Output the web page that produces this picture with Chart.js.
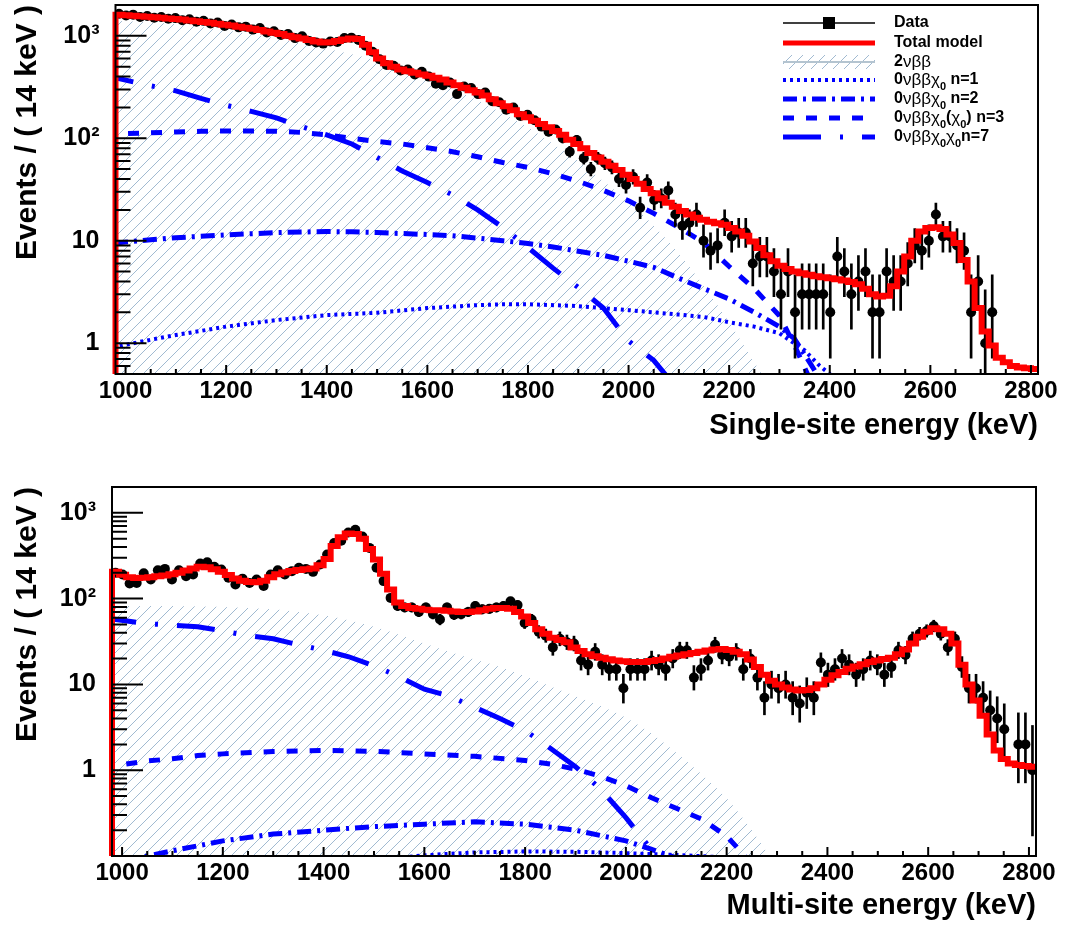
<!DOCTYPE html>
<html>
<head>
<meta charset="utf-8">
<script src="https://cdn.jsdelivr.net/npm/chart.js@4.4.1/dist/chart.umd.min.js"></script>
<style>
  html, body { margin: 0; padding: 0; background: #fff; }
  #wrap { position: relative; width: 1067px; height: 929px; }
  canvas { position: absolute; left: 0; }
  #c1 { top: 0; }
  #c2 { top: 460px; }
</style>
</head>
<body>
<div id="wrap">
  <canvas id="c1" width="1067" height="460"></canvas>
  <canvas id="c2" width="1067" height="469"></canvas>
</div>
<script>
// ----- settings
Chart.defaults.font.family = "'Liberation Sans', Arial, Helvetica, sans-serif";
Chart.defaults.color = '#000';

const BIN_LO = 980, BIN_W = 14, E_MAX = 2814;
const X_TICKS = [1000, 1200, 1400, 1600, 1800, 2000, 2200, 2400, 2600, 2800];
const Y_LABELS = {1: '1', 10: '10', 100: '10²', 1000: '10³'};
const RED = '#ff0000', BLUE = '#0000ff', HATCH = 'rgb(150,178,204)';

// ----- single-site spectrum (counts per 14 keV bin, 980..2814 keV)
const SS_DATA = [
  1640, 1580, 1610, 1530, 1560, 1500, 1530, 1470, 1490, 1420, 1450, 1370, 1400, 1320, 1350,
  1250, 1290, 1210, 1230, 1150, 1190, 1080, 1110, 1020, 1040, 950, 990, 890, 860, 840,
  880, 870, 950, 960, 910, 800, 700, 590, 520, 510, 460, 470, 420, 445, 400,
  340, 330, 350, 270, 320, 310, 270, 280, 230, 225, 190, 200, 165, 170, 150,
  130, 116, 122, 100, 74, 96, 64, 50, 64, 57, 52, 40, 35, 42, 21,
  37, 25, 26, 31, 18, 14, 15, 18,
  10, 8, 9, 15, 11, 12, 12, 6, 7, 7, 5, 3, 5, 2, 3, 3, 3, 3, 2, 7,
  5, 3, 4, 5, 2, 2, 5, 4, 4, 6, 9, 8, 10, 18, 11, 11, 9, 8, 2, 4, 1, 2,
  null, null, null, null, null, null
];
const SS_MODEL = [
  1610, 1590, 1570, 1555, 1540, 1520, 1500, 1480, 1460, 1440, 1415, 1390, 1365, 1340, 1310,
  1285, 1260, 1230, 1200, 1170, 1140, 1100, 1070, 1040, 1000, 970, 940, 910, 880, 860,
  865, 890, 920, 940, 930, 820, 690, 600, 540, 500, 470, 450, 435, 420, 408,
  390, 375, 350, 330, 312, 295, 280, 262, 240, 220, 205, 188, 172, 160, 148,
  138, 128, 118, 108, 97, 88, 80, 72, 65, 59, 54, 49, 44, 40, 36,
  32, 29, 26, 23.5, 21.5, 19.5, 18, 16.8, 16, 15.3, 14.8, 14.3, 13.3, 12.3, 11.2,
  9.8, 8.5, 7.2, 6.3, 5.7, 5.3, 5.0, 4.8, 4.65, 4.5, 4.4, 4.3, 4.2, 4.1, 3.95,
  3.75, 3.4, 3.0, 2.85, 2.9, 3.6, 5.0, 7.0, 10, 12.3, 13.3, 13.5, 13, 11.5, 9.5,
  6.5, 4.0, 2.2, 1.3, 0.95, 0.72, 0.65, 0.6, 0.58, 0.57, 0.56
];
const SS_2NU_E = [980, 1050, 1100, 1150, 1200, 1250, 1300, 1350, 1400, 1450, 1500, 1550, 1600, 1650,
  1700, 1750, 1800, 1850, 1900, 1950, 2000, 2050, 2100, 2150, 2200, 2250, 2280];
const SS_2NU = [1400, 1350, 1300, 1220, 1130, 1040, 940, 840, 750, 660, 570, 470, 385, 305,
  235, 175, 128, 88, 60, 38, 24, 14, 7.5, 3.6, 1.6, 0.65, 0.38];
const SS_N1_E = [980, 1050, 1100, 1200, 1300, 1400, 1500, 1600, 1700, 1750, 1800, 1900, 2000, 2100,
  2150, 2200, 2250, 2300, 2350, 2380, 2400, 2420];
const SS_N1 = [0.92, 1.08, 1.2, 1.45, 1.68, 1.88, 1.98, 2.2, 2.35, 2.4, 2.4, 2.3, 2.1, 1.9,
  1.8, 1.6, 1.45, 1.25, 0.85, 0.6, 0.5, 0.42];
const SS_N2_E = [980, 1050, 1100, 1200, 1300, 1400, 1450, 1500, 1600, 1650, 1700, 1750, 1800, 1850,
  1900, 1950, 2000, 2050, 2100, 2150, 2200, 2250, 2300, 2330, 2360, 2380];
const SS_N2 = [9.5, 10.2, 10.7, 11.4, 12, 12.3, 12.2, 12, 11.5, 11.2, 10.6, 10, 9.4, 8.7,
  7.9, 7.2, 6.3, 5.5, 4.3, 3.4, 2.7, 2.0, 1.45, 1.1, 0.65, 0.45];
const SS_N3_E = [980, 1050, 1100, 1150, 1200, 1250, 1300, 1350, 1400, 1450, 1500, 1550, 1600, 1650,
  1700, 1750, 1800, 1850, 1900, 1950, 2000, 2050, 2100, 2150, 2200, 2250, 2300, 2330, 2360];
const SS_N3 = [110, 113, 115, 117, 118, 118, 117, 114, 108, 100, 93, 88, 81, 74,
  66, 58, 52, 45, 38, 31, 24.5, 18.5, 13.5, 9.5, 5.6, 3.4, 1.85, 0.95, 0.45];
const SS_N7_E = [980, 1050, 1100, 1150, 1200, 1250, 1300, 1350, 1400, 1450, 1500, 1550, 1600, 1650,
  1700, 1750, 1800, 1850, 1900, 1950, 2000, 2050, 2080];
const SS_N7 = [390, 325, 290, 245, 210, 183, 158, 130, 108, 88, 65, 48, 37, 28,
  20, 13.5, 8.6, 5.4, 3.5, 2.2, 1.05, 0.68, 0.45];

// ----- multi-site spectrum
const MS_DATA = [
  200, 191, 150, 152, 197, 167, 214, 222, 167, 214, 182, 191, 257, 265, 235,
  218, 175, 146, 171, 152, 167, 140, 191, 214, 191, 209, 229, 222, 205, 250,
  326, 446, 474, 590, 636, 531, 390, 229, 160, 102, 82, 79, 79, 70, 79,
  66, 57, 79, 65, 66, 70, 82, 75, 76, 79, 82, 93, 84, 52, 57,
  41, 37, 27, 34, 31, 30, 19, 17, 24, 17, 15, 15, 9, 15, 15,
  15, 19, 17, 15, 20, 25, 25, 12, 15, 19, 29, 22, 21, 24, 15,
  20, 12, 7, 10, 9, 10, 7, 6, 8, 7, 18, 13, 15, 20, 17,
  13, 15, 19, 17, 13, 16, 25, 22, 34, 39, 42, 48, 39, 27, 34,
  16, 9, 9, 7, 5, 4, 3, null, 2, 2, 1
];
const MS_MODEL = [
  205, 190, 178, 174, 175, 178, 182, 186, 192, 200, 212, 225, 235, 232, 220,
  205, 188, 172, 162, 156, 155, 162, 178, 192, 202, 210, 216, 220, 225, 245,
  290, 410, 520, 575, 565, 500, 380, 285, 195, 128, 90, 82, 78, 76, 74,
  73, 73, 72, 71, 70, 70, 71, 73, 76, 78, 78, 76, 70, 62, 52,
  44, 39, 35, 33, 31, 27, 24.5, 22.5, 21.3, 20.5, 19.6, 19, 18.6, 18.3, 18.2,
  18.3, 18.7, 19.2, 20, 21, 21.8, 22.5, 23.3, 24, 24.8, 25.5, 25.8, 25.2, 24, 22.5,
  19.5, 16, 13, 11, 10, 9.2, 8.7, 8.5, 8.6, 9, 10, 11.3, 12.8, 14, 15.2,
  16.2, 17.2, 18.2, 19, 19.8, 20.5, 22.5, 25.5, 30, 36, 41, 45, 44, 39, 30,
  17, 10, 6.5, 4.3, 2.6, 1.7, 1.35, 1.2, 1.15, 1.12, 1.1
];
const MS_2NU_E = [980, 1050, 1100, 1150, 1200, 1250, 1300, 1350, 1400, 1450, 1500, 1550, 1600, 1650,
  1700, 1750, 1800, 1850, 1900, 1950, 2000, 2050, 2100, 2150, 2200, 2250, 2290];
const MS_2NU = [82, 82, 82, 81, 80, 78, 75, 70, 64, 56, 47, 38, 30, 24,
  19.5, 16, 12.5, 9.5, 7.3, 5.6, 4.1, 2.7, 1.6, 0.9, 0.47, 0.2, 0.09];
const MS_N1_E = [980, 1100, 1200, 1300, 1400, 1500, 1550, 1600, 1650, 1700, 1800, 1900, 2000, 2100, 2200, 2250];
const MS_N1 = [0.045, 0.055, 0.065, 0.073, 0.08, 0.087, 0.095, 0.102, 0.106, 0.11, 0.113, 0.112, 0.108, 0.103, 0.096, 0.09];
const MS_N2_E = [980, 1000, 1050, 1100, 1200, 1300, 1400, 1500, 1600, 1700, 1800, 1900, 2000, 2050, 2100, 2150];
const MS_N2 = [0.07, 0.08, 0.1, 0.115, 0.15, 0.18, 0.2, 0.22, 0.235, 0.25, 0.235, 0.2, 0.15, 0.12, 0.095, 0.07];
const MS_N3_E = [980, 1000, 1050, 1100, 1150, 1200, 1300, 1400, 1500, 1600, 1700, 1800, 1850, 1900,
  1950, 2000, 2050, 2100, 2150, 2200, 2230, 2250];
const MS_N3 = [1.12, 1.16, 1.28, 1.36, 1.48, 1.55, 1.65, 1.7, 1.66, 1.55, 1.45, 1.3, 1.18, 1.03,
  0.85, 0.66, 0.48, 0.36, 0.27, 0.17, 0.11, 0.08];
const MS_N7_E = [980, 1050, 1100, 1150, 1200, 1250, 1300, 1350, 1400, 1450, 1500, 1550, 1600, 1650,
  1700, 1750, 1800, 1850, 1900, 1950, 2000, 2050, 2070];
const MS_N7 = [58, 51, 49, 47, 42, 37, 34, 29, 25, 21, 16.5, 12.3, 8.8, 7.3,
  5.4, 4.0, 2.9, 1.8, 1.1, 0.6, 0.28, 0.12, 0.08];

// line styles of the 0vbb components
const COMP_STYLE = {
  n7: {dash: [38, 19, 3, 19], width: 5},
  n3: {dash: [11, 12], width: 5},
  n2: {dash: [14, 6, 3, 6], width: 5},
  n1: {dash: [3, 4], width: 4},
};

// ----- helpers
const binCenter = i => BIN_LO + BIN_W * (i + 0.5);

// histogram outline: left edge rises from below the axis, then one flat step per bin
function stepPts(vals, floor) {
  const pts = [{x: BIN_LO, y: floor}];
  vals.forEach((v, i) => pts.push({x: BIN_LO + BIN_W * i, y: v}));
  pts.push({x: BIN_LO + BIN_W * vals.length, y: vals[vals.length - 1]});
  return pts;
}

function curvePts(es, vs, floor) {
  const pts = es.map((e, i) => ({x: e, y: vs[i]}));
  if (floor) pts.unshift({x: es[0], y: floor});
  return pts;
}

function dataPts(counts) {
  return counts.map((n, i) => n ? {x: binCenter(i), y: n} : null).filter(Boolean);
}

// approximate 68% Poisson interval (Gehrels)
function errPts(counts) {
  return counts.map((n, i) => {
    if (!n) return null;
    const hi = n + 1 + Math.sqrt(n + 0.75);
    const lo = n * Math.pow(1 - 1 / (9 * n) - 1 / (3 * Math.sqrt(n)), 3);
    return {x: binCenter(i), y: [lo, hi]};
  }).filter(Boolean);
}

function makeHatch() {
  const s = 11;
  const c = document.createElement('canvas');
  c.width = s; c.height = s;
  const g = c.getContext('2d');
  g.strokeStyle = HATCH;
  g.lineWidth = 0.9;
  g.beginPath();
  g.moveTo(0, s); g.lineTo(s, 0);
  g.moveTo(-s / 2, s / 2); g.lineTo(s / 2, -s / 2);
  g.moveTo(s / 2, s * 1.5); g.lineTo(s * 1.5, s / 2);
  g.stroke();
  return g.createPattern(c, 'repeat');
}
const hatchPattern = makeHatch();

const CLIP = {left: 4, top: 0, right: 0, bottom: 0};

function compSet(key, pts) {
  const s = COMP_STYLE[key];
  return {
    type: 'line', data: pts, borderColor: BLUE, borderWidth: s.width, borderDash: s.dash,
    borderCapStyle: 'butt', pointRadius: 0, tension: 0, fill: false, clip: CLIP
  };
}

function buildDatasets(p) {
  return [
    {type: 'line', data: stepPts(p.model, p.floor), borderColor: RED, borderWidth: 6,
      stepped: true, pointRadius: 0, fill: false, clip: CLIP, borderJoinStyle: 'miter'},
    {type: 'scatter', data: dataPts(p.data), backgroundColor: '#000', borderWidth: 0,
      pointRadius: 5, showLine: false},
    {type: 'bar', data: errPts(p.data), backgroundColor: '#000', barThickness: 2, grouped: false},
    compSet('n7', curvePts(p.n7e, p.n7, p.floor)),
    compSet('n3', curvePts(p.n3e, p.n3, p.floor)),
    compSet('n2', curvePts(p.n2e, p.n2, p.floor)),
    compSet('n1', curvePts(p.n1e, p.n1, p.floor)),
    {type: 'line', data: curvePts(p.nu2e, p.nu2), borderColor: 'rgba(0,0,0,0)', borderWidth: 0,
      backgroundColor: hatchPattern, fill: 'start', pointRadius: 0, tension: 0.3},
  ];
}

// ROOT-like frame and inward ticks
const Y_MINOR = [];
[0.1, 1, 10, 100, 1000].forEach(d => { for (let m = 1; m <= 9; m++) Y_MINOR.push(+(m * d).toPrecision(3)); });

const rootAxes = {
  id: 'rootAxes',
  afterDraw(chart) {
    const {ctx, chartArea: a, scales: {x, y}} = chart;
    ctx.save();
    ctx.strokeStyle = '#000';
    ctx.lineWidth = 2;
    ctx.beginPath();
    for (let v = 1000; v <= x.max; v += 50) {
      const px = x.getPixelForValue(v);
      const len = v % 200 === 0 ? 9 : 5;
      ctx.moveTo(px, a.bottom);
      ctx.lineTo(px, a.bottom - len);
    }
    Y_MINOR.forEach(v => {
      if (v < y.min || v > y.max) return;
      const py = y.getPixelForValue(v);
      const len = Y_LABELS[v] ? 31 : 15;
      ctx.moveTo(a.left, py);
      ctx.lineTo(a.left + len, py);
    });
    ctx.stroke();
    ctx.strokeRect(a.left, a.top, a.right - a.left, a.bottom - a.top);
    ctx.restore();
  }
};

// legend of the upper panel
const LEGEND = [
  {kind: 'data', text: [['Data', 'b']]},
  {kind: 'model', text: [['Total model', 'b']]},
  {kind: 'nu2', text: [['2', 'b'], ['νββ', 'g']]},
  {kind: 'n1', text: [['0', 'b'], ['νββχ', 'g'], ['0', 's'], [' n=1', 'b']]},
  {kind: 'n2', text: [['0', 'b'], ['νββχ', 'g'], ['0', 's'], [' n=2', 'b']]},
  {kind: 'n3', text: [['0', 'b'], ['νββχ', 'g'], ['0', 's'], ['(', 'b'], ['χ', 'g'], ['0', 's'], [') n=3', 'b']]},
  {kind: 'n7', text: [['0', 'b'], ['νββχ', 'g'], ['0', 's'], ['χ', 'g'], ['0', 's'], ['n=7', 'b']]},
];
const LEG_FONTS = {
  b: {font: "bold 16px 'Liberation Sans', Arial", dy: 0},
  g: {font: "17px 'Liberation Sans', Arial", dy: 0},
  s: {font: "bold 11px 'Liberation Sans', Arial", dy: 7},
};

const rootLegend = {
  id: 'rootLegend',
  afterDatasetsDraw(chart) {
    const ctx = chart.ctx;
    const x0 = 783, x1 = 875, tx = 894;
    const rows = [23, 43, 62, 80, 99, 118, 137];
    ctx.save();
    LEGEND.forEach((item, r) => {
      const y = rows[r];
      ctx.setLineDash([]);
      ctx.lineCap = 'butt';
      if (item.kind === 'data') {
        ctx.strokeStyle = '#000'; ctx.lineWidth = 1.5;
        ctx.beginPath(); ctx.moveTo(x0, y); ctx.lineTo(x1, y); ctx.stroke();
        ctx.fillStyle = '#000'; ctx.fillRect((x0 + x1) / 2 - 6, y - 6, 12, 12);
      } else if (item.kind === 'model') {
        ctx.strokeStyle = RED; ctx.lineWidth = 5;
        ctx.beginPath(); ctx.moveTo(x0, y); ctx.lineTo(x1, y); ctx.stroke();
      } else if (item.kind === 'nu2') {
        ctx.fillStyle = hatchPattern; ctx.fillRect(x0, y - 7, x1 - x0, 14);
        ctx.strokeStyle = '#b4c4d0'; ctx.lineWidth = 2;
        ctx.beginPath(); ctx.moveTo(x0, y); ctx.lineTo(x1, y); ctx.stroke();
      } else {
        const s = COMP_STYLE[item.kind];
        ctx.strokeStyle = BLUE; ctx.lineWidth = s.width; ctx.setLineDash(s.dash);
        ctx.beginPath(); ctx.moveTo(x0, y); ctx.lineTo(x1, y); ctx.stroke();
      }
      ctx.setLineDash([]);
      ctx.fillStyle = '#000';
      ctx.textBaseline = 'middle';
      ctx.textAlign = 'left';
      let x = tx;
      item.text.forEach(([t, k]) => {
        const f = LEG_FONTS[k];
        ctx.font = f.font;
        ctx.fillText(t, x, y + f.dy);
        x += ctx.measureText(t).width;
      });
    });
    ctx.restore();
  }
};

function makeChart(canvasId, p) {
  return new Chart(document.getElementById(canvasId), {
    type: 'scatter',
    data: {datasets: buildDatasets(p)},
    options: {
      responsive: false,
      animation: false,
      events: [],
      layout: {padding: p.pad},
      plugins: {legend: {display: false}, tooltip: {enabled: false}},
      scales: {
        x: {
          type: 'linear', min: BIN_LO, max: E_MAX, offset: false,
          grid: {display: false, drawTicks: false}, border: {display: false},
          afterBuildTicks: s => { s.ticks = X_TICKS.map(v => ({value: v})); },
          afterFit: s => { s.height = p.xH; s.paddingLeft = 0; s.paddingRight = 0; },
          ticks: {autoSkip: false, maxRotation: 0, padding: 3, color: '#000',
            font: {size: 24, weight: 'bold'}, callback: v => String(v)},
          title: {display: true, text: p.xTitle, align: 'end', color: '#000',
            font: {size: 29, weight: 'bold'}, padding: {top: 0, bottom: p.xTitlePad}}
        },
        y: {
          type: 'logarithmic', min: p.yMin, max: 2000,
          grid: {display: false, drawTicks: false}, border: {display: false},
          afterBuildTicks: s => {
            s.ticks = Object.keys(Y_LABELS).map(Number).filter(v => v >= p.yMin).map(v => ({value: v}));
          },
          afterFit: s => { s.width = p.yW; s.paddingTop = 0; s.paddingBottom = 0; },
          ticks: {autoSkip: false, padding: 16, color: '#000',
            font: {size: 25, weight: 'bold'}, callback: v => Y_LABELS[v] || ''},
          title: {display: true, text: 'Events / ( 14 keV )', align: 'end', color: '#000',
            font: {size: 30, weight: 'bold'}, padding: {top: 10, bottom: 0}}
        }
      }
    },
    plugins: p.legend ? [rootAxes, rootLegend] : [rootAxes]
  });
}

makeChart('c1', {
  data: SS_DATA, model: SS_MODEL, nu2e: SS_2NU_E, nu2: SS_2NU,
  n1e: SS_N1_E, n1: SS_N1, n2e: SS_N2_E, n2: SS_N2, n3e: SS_N3_E, n3: SS_N3, n7e: SS_N7_E, n7: SS_N7,
  floor: 1e-3, yMin: 0.5, yW: 115.5, xH: 86, xTitlePad: 17,
  pad: {left: 0, right: 29, top: 5, bottom: 0},
  xTitle: 'Single-site energy (keV)', legend: true
});

makeChart('c2', {
  data: MS_DATA, model: MS_MODEL, nu2e: MS_2NU_E, nu2: MS_2NU,
  n1e: MS_N1_E, n1: MS_N1, n2e: MS_N2_E, n2: MS_N2, n3e: MS_N3_E, n3: MS_N3, n7e: MS_N7_E, n7: MS_N7,
  floor: 1e-3, yMin: 0.1, yW: 112, xH: 73, xTitlePad: 6,
  pad: {left: 0, right: 31, top: 27, bottom: 0},
  xTitle: 'Multi-site energy (keV)', legend: false
});
</script>
</body>
</html>
